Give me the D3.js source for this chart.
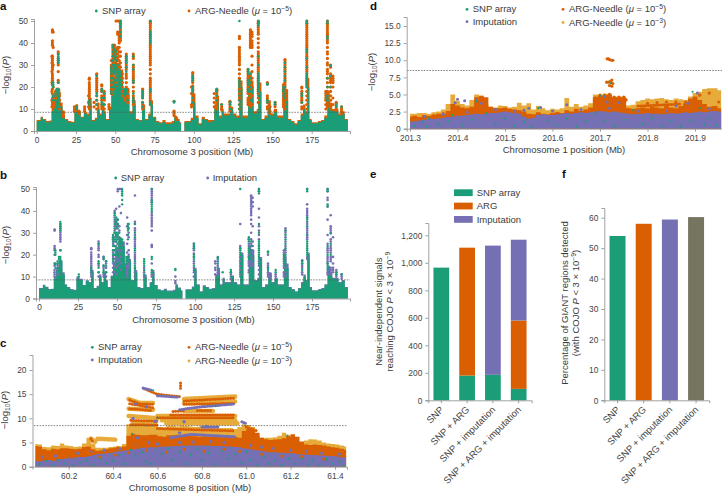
<!DOCTYPE html>
<html><head><meta charset="utf-8">
<script src="https://cdn.jsdelivr.net/npm/d3@7"></script>
<style>html,body{margin:0;padding:0;background:#fff}svg{display:block}text{font-family:"Liberation Sans",sans-serif;fill:#3c3c3c}</style>
</head><body><svg id="c" width="722" height="496"></svg>
<script>
const GREEN="#1b9e77",ORANGE="#d95f02",PURPLE="#7570b3",YELLOW="#e6ab3a",OLIVE="#767660";
const chr3Ticks=[0,25,50,75,100,125,150,175];
const chr8Ticks=[60.2,60.4,60.6,60.8,61.0,61.2,61.4];
const chr1Ticks=[201.3,201.4,201.5,201.6,201.7,201.8,201.9];
const dTicksY=[0,2.5,5,7.5,10,12.5,15];
const barCats=["SNP","SNP + ARG","SNP + imputation","SNP + ARG + imputation"];
const eSnp=[965,180,185,83];
const eArg=[0,930,0,497];
const eImp=[0,0,940,588];
const fPct=[54,58,59.4,60.2];
const threshold=8.5;

// chromosome 3 floors (position, then height of the solid mass of each call set)
const chr3Pos=[0,2,2.5,4,6,8,9.5,11,13,15,16.5,18,20,22,24,26,28,30,32,33.5,35,37,38.5,40,41.5,43,44,46,47.5,49,51,53,55,57,59,61,63,65,67,69,71,72.5,74,76,78,80,82,84,86,87.5,89,91,91.9,92,94,96,98,99.5,101,103,105,107,109,111,113,114.5,116,117.7,119,121,123,125,127,129,131,133,134.5,136,138,140,141,143,145,147,149,151,153,155,157,158.5,160,162,164,166,168,169.5,171,172,173.5,175,177,179,181,183,185,186.5,188,190,192,194,196,198];
const snpFloor=[4.5,4.5,6,5,4,4.2,9,13,17,11,6,5,4,3.8,9,8.5,6,8,7,12,4.5,5.5,10,7,11,8,5,10,16,20,26,24,14,17,8,12,5,4.5,10,5,7,12,6,4,3.5,4,3.2,3.3,3.5,6,4.5,3.5,3.5,null,4,4,5,13,6,3,5.5,5,4,4.5,10,13,6,9,7,7,10,7,6,20,6,6,22,20,8,9,18,5,6,11,7,9,6,6,17,14,5,4,3,4.5,7,10,8,20,5,3.5,3.5,4,4.5,6,14,11,9,9,7,8,5,3.5];
const argFloor=[5,5,6.5,5.5,4.6,4.8,11,16,19,13,7,5.5,4.6,4.2,11,9,6.5,8.5,8,15,5,6,13,8,13,9,5.5,11,20,24,31,28,19,19,9,14,5.5,5,12,5.5,8,14,6.5,4.5,4,5,4,4,4.5,7,5.5,4,4,null,4.5,4.5,6,17,7,3.5,6.5,5.5,5,5,12,16,7,10,8,8,11,8,7,23,7,7,25,23,9,10,22,5.5,7,14,8,10,7,7,22,19,5.5,4.5,3.5,5,8,12,9,24,5.5,4,4,4.5,5,7,18,13,10,10,8,9,5.5,4.2];
const impFloor=[4.8,4.8,6.3,5.4,4.3,4.5,10,14,17.5,12,6.5,5.2,4.3,4,10,9,6.2,8.3,7.5,13,4.8,5.8,11,7.5,12,8.5,5.3,10.5,17,22,28,26,16,18,8.5,13,5.2,4.8,11,5.2,7.5,13,6.2,4.2,3.8,4.4,3.6,3.6,4,6.5,5,3.8,3.8,null,4.2,4.2,5.5,14,6.5,3.3,6,5.3,4.5,4.8,11,14,6.5,9.5,7.5,7.5,10.5,7.5,6.5,21,6.5,6.5,24,22,8.5,9.5,19,5.3,6.5,12,7.5,9.5,6.5,6.5,19,16,5.3,4.3,3.3,4.8,7.5,11,8.5,21,5.3,3.8,3.8,4.3,4.8,6.5,15,12,9.5,9.5,7.5,8.5,5.3,3.8];

// chromosome 3 strong-signal columns: [position, [values]]; values above 50 are shown at the 50 cap
const argColumns=[[10,[46,45.5,45,41,40,39,34,33,32,31,30,29,28,26,25,24,23,22,21,19,17,15,13,12]],[9.7,[34,31,27,22,18,14,11]],[10.5,[45,38,30,20,16]],[13.7,[36,35,33,32,31,30,27,23,22,19,18,17,15,14,13]],[13,[19,18,17,16,14,12]],[12,[18,17,16,15,13,12]],[14.5,[17,16,14,12,10]],[11,[14,13,12,11]],[17,[8.7,8,7,6.5]],[24,[11,10,9]],[25.5,[11.5,10.5,9.5]],[27,[9,8]],[30.5,[11,10,9]],[33.5,[24,23.5,22,21,20,19,18,17,16,15,14,13,12,11,10]],[33,[16,13,11]],[38.2,[26,25.5,24,23,22,21,20,19,18,16,14,12,10]],[36.5,[13,11]],[41.4,[21,20.5,19,18,16,15,14,12,11,10]],[43,[18,17,16,15,14,12,10]],[46,[12,11,10]],[47.5,[32,30,29,28,27,26,25,24,23,22,21,20,19,18,17]],[48.5,[39,38,37,36,35,34,33,32,31,30,29,28,27,26,25,24,22,21,20,19]],[49.5,[39,38,37,36,35,34,33,31,30,28,27,26,24,23,22,21,20]],[50.5,[50,37,36,35,34,33,32,31,30,29,28,27,25,24,23,22,21]],[51.5,[50,45,44,38,37,35,33,32,30,29,28,26,25,23]],[52.5,[50,45,44,43,42,41,40,38,36,34,32,30,28,27,26,25,24]],[53.3,[50,49,48,47,46,45,44,43,42,41,36,34,31,29,27,26]],[54.5,[26,24,22,20,18,16]],[56,[19,18,17,16,15,14]],[57,[35,34,33,32,31,30,29,28,26,25,24,22,20,19,18,17,16]],[58,[19,18,16,15,13]],[61.5,[35,34,33,30,29,28,27,26,25,24,23,22,20,18,16,15,14,13,12]],[67.4,[19,18,17,16,15,13,12,11,10]],[72.3,[50,49.5,49,48,47,46,45,44,43,42,41,40,39,38,37,36,35,34,33,32,31,30,28,26,24,23,22,21,20,19,18,17,16,15,14,13,12]],[87.4,[13.5,9,8,7]],[89,[6,5.5]],[99.3,[26.5,26,25,24,23,22,20.5,20,19,18,17,16,15,14,13,12]],[98.5,[20,17,12,11]],[114.6,[19,18.5,18,17,16,15,14,13,12,11,10]],[113,[17,15,13,11]],[117.7,[12,11,10,9.5]],[123,[13.5,13,12,11,10,9]],[129,[43,42,38,37,36,35,34,33,32,31,30,28,26,24,23,22,21,20,19,18,17,16,15,14,12,10]],[134.5,[28,27,26,25,24,23,22,21,20,19,18,17,15,14,13,12]],[136,[46,45,44,43,42,41,40,39,38,26,25,24,23,22,21,20,19,18,17,16,15,14,13,12,11]],[137,[45,44,43,41,40,39,38,34,30,27,24,20,16,12]],[141,[50,49.5,49,48,47,46,45,44,42,40,38,36,35,34,33,32,31,30,29,28,27,26,25,24,23,22,21,20,19,18,17,15,13]],[146.8,[22,21.5,16,15,14,13,11,10]],[148.5,[11,9,8]],[151.7,[13,12,11,9]],[157,[21,20,19,18,17,16,15,14,13,12,11]],[158,[32.5,32,31,30,29,28,27,26,25,24,23,22,21,20,19,18,17,16,15,14,12,10]],[168.7,[20,19.5,18,17,16,15,14,13,11,10]],[171.9,[50,49,48,47,46,45,44,43,42,41,40,39,38,37,36,35,34,33,32,31,30,29,28,27,26,25,24,23,22,21,20,18,16,14,12,10]],[185,[50,49,48,47,46,45,44,43,42,41,40,38,36,35,33,31,30,28,27,26,24,22,20,18,17,16,15,14,13,12,11]],[184,[18,17,16,15,14,12,10]],[187,[30,29,26,25,24,23,22,20,18,16,14,12,11,10]],[188.5,[25,24,23,22,20,15,12]],[190.6,[13,12.5,11.5,10.5,9.5]],[194,[11,10,9,8]]];
const snpColumns=[[10.5,[22,21,20,16,15.5,14]],[12,[17,16,14]],[13.7,[35,34,33,32,31,22,19,18,17,16,15,14,13,12]],[12.8,[19,18,13,12]],[25.5,[11,10]],[33.5,[14,13,12]],[38.2,[25,17,16,14,12]],[41.4,[19,18,15,13,12]],[43,[17,15,12]],[47.5,[29,28,27,26,24,22,20,18,17]],[48.5,[39,38,36,34,32,30,27,24,22,20]],[49.5,[37,35,33,30,29,28,27,26,23,21,20]],[50.5,[36,34,32,29,27,25,23,21]],[51.5,[30,28,26,24]],[52.5,[27,26,25,24,23]],[53.3,[50,49,48,47,45,43,27,26,25]],[56,[19,18,17,16]],[57,[34,33,32,31,29,27,19,18,17]],[61.5,[34,30,28,23,22,17,15,14,13]],[67.4,[18,17,16,15,13,11]],[72.3,[50,45,44,43,42,41,40,19,18,13,12]],[87.4,[13.5,13]],[99.3,[25,24,23,20,19,18,15,13]],[114.6,[19,18,16,14]],[117.7,[12]],[123,[13,12,10]],[129,[50,23,22,21,20,18,16,14,12,10]],[134.5,[28,27,26,23,22,21,19,18]],[136,[26,24,22,20,18,14]],[141,[50,49,48,34,30,26,25,24,23,22,21,20,19,18,16]],[146.8,[21.5,21,14,13]],[151.7,[13,12]],[157,[20,19,18,16]],[158,[31,29,27,25,23,20,17,15]],[168.7,[17,16,13]],[171.9,[50,49,37,36,33,29,26,25,24,23,22,21,20]],[185,[50,49,43,42,24,20,16,15,14]],[187,[29.7,25,20]],[190.6,[12,11]],[194,[11]]];
const impColumns=[[10,[31.5,31,24,23,22,20,16,15,13,12,11,10]],[13.7,[34,33,32,31,30,29,28,27,26,22,17,16,15,14,13,12]],[12,[16,15,14,13,12,11]],[33.5,[23,22.5,21,20,19,18,17,16,15,14,13,12,11,10]],[38.2,[26,25,24,23,22,20,19,16,15,12,10]],[41.4,[19,18,15,14,12,11,10]],[43,[17,16,14,12,10]],[47.5,[29,28,27,26,25,22,21,20,19,18,16,14,12]],[48.5,[40,39,37,35,33,31,30,28,26,24,22,20,18,15,12]],[49.5,[41,36,35,34,32,29,26,24,22,19,17,14,11]],[50.5,[50,49,36,34,33,30,28,25,22,18,15]],[51.5,[50,42,33,31,27,24,21,17]],[52.5,[50,39,27,25,22,19,16,13]],[56.5,[37,33,29,25,21,18,16,15,14,13,12,11,10]],[57.5,[34,32,30,28,22,20,19,18,17,16,15,14]],[61.5,[47,35,34,32,31,29,27,26,25,24,21,20,19,18,16,14,12,10]],[67.4,[14,12,10]],[72.3,[50,49,48,47,46,45,44,39,38,37,36,35,34,33,31,24.5,24,23.5,16,11,10]],[87.4,[10,8,7]],[99.3,[25,24,23,22,20.5,19,17,16,14,12,10]],[113,[17,16,14,13,11]],[114.6,[18.5,17,15,13,12,11]],[123,[12,11,9]],[129,[34,24,23,19,17,15,13,11]],[134.5,[27,25,24,20,19,17,16,15,13,12]],[136,[47,46.5,46,45,44,43,42,41,40,39,38,36,34,30,27,25,21,19,17,16,15,14]],[137,[46,44,42,33,26,24,22,20,18,16,15]],[141,[50,49,41,37,33,31,29,27,24,17,15,13,11]],[146.8,[20,16,15,14,12,11,10]],[148.5,[11,10,9]],[151.7,[11,10]],[157,[22,21,20,18,17,15,14,12,11,10]],[158,[32,31,30,28,26,24,22,21,19,18,16,14,12,10]],[168.7,[17.5,16,15,14,12,11]],[171.9,[50,43,41,40,39,38,37,35,34,32,31,30,29,28,27,19,18]],[185,[50,49,46,45,42,36,29,25,23,22,21,19,18,17,16,13,12,11]],[187,[38,33,32,31,30,27,26,24,23,22,21,19,18,17,14,13,12,11]],[188.5,[28,19,16,14,13,12]],[190.6,[13,12,11,10]],[194,[11,10,9]]];

// chromosome 8 region
const c8Pos=[60.05,60.07,60.09,60.11,60.13,60.15,60.17,60.19,60.21,60.23,60.25,60.27,60.29,60.31,60.33,60.35,60.37,60.39,60.41,60.43,60.45,60.47,60.49,60.51,60.53,60.55,60.57,60.59,60.61,60.63,60.65,60.67,60.69,60.71,60.73,60.75,60.77,60.79,60.81,60.83,60.85,60.87,60.89,60.91,60.93,60.95,60.97,60.99,61.01,61.03,61.05,61.07,61.09,61.11,61.13,61.15,61.17,61.19,61.21,61.23,61.25,61.27,61.29,61.31,61.33,61.35,61.37,61.39,61.41,61.43,61.45];
const c8Imp=[1.2,1.1,1.3,1.4,1.2,1.5,1.6,1.7,1.7,1.9,2,2,2.2,2.4,2.6,2.7,2.8,2.9,3.1,3.2,3.3,3.4,3.6,3.7,3.9,3.9,4,4,4.1,4.2,4.2,4.3,4.3,4.4,4.4,4.4,4.4,4.4,4.4,4.4,4.3,4.3,4.3,4.2,4.2,4.1,4,3.8,3.7,3.5,3.4,3.3,3.1,3,3,2.9,2.9,2.8,2.8,2.6,2.6,2.5,2.4,2.4,2.3,2.3,2.2,2.2,2.1,2,1.9];
const c8Arg=[4.3,4.2,3.6,3.4,3.7,3.6,3.8,3.8,3.7,3.6,3.7,4.1,4.2,3.6,3.3,3.4,3.6,3.8,3.9,3.9,4.2,6.4,6.8,6.6,6.5,6.5,6.6,6.6,6.3,6.2,6.5,6.5,6.6,6.5,6.5,6.4,6.3,6.2,6.3,6.2,6.2,6.2,6.1,6.2,6.2,6.2,6,7.4,7.8,7.6,7,6,5.7,5.5,5.6,5.7,5.9,6.3,6.7,6.2,5.2,4.6,4.5,4.6,4.5,4.4,4.2,4,3.9,3.7,3.5];
const c8Yellow=[4.7,4.6,4.1,4,4.4,4.3,4.8,4.4,4.3,4.1,4.2,4.8,6,4.8,3.9,3.9,3.9,4.1,4.2,4.3,4.7,8.8,9.6,9.4,9.3,9.3,9.2,9.4,8.2,8.1,8.4,8.5,8.3,8.5,8.4,8.3,8.2,8.3,8.2,8.1,8.1,8,8,8,8,7.8,8.2,8.8,8.6,8.2,6.6,6,6,6,6.1,6.4,7,6.6,5.6,5.2,5,5.4,5.7,5.6,5.4,5,4.8,4.7,4.6,4.4,4.2];
const c8YellowTraces=[[[60.47,14],[60.52,13.2],[60.58,13.2]],[[60.47,12],[60.58,11.8]],[[60.47,10.5],[60.6,10]],[[60.72,14],[60.95,14.5]],[[60.72,13.2],[60.95,13.5]],[[60.72,11.5],[60.85,11.5]],[[60.6,10.5],[60.95,10.5]],[[60.62,9.6],[60.95,9.6]],[[60.3,5.8],[60.32,5.2]],[[60.33,5.8],[60.41,5.6]],[[60.64,9],[60.96,9]]];
const c8ArgTraces=[[[60.475,13.8],[60.52,13],[60.58,12.9]],[[60.475,13],[60.58,12.2]],[[60.475,12],[60.58,11.6]],[[60.48,9.6],[60.6,9.4]],[[60.48,8.7],[60.6,8.6]],[[60.6,10.1],[60.95,10.1]],[[60.66,10.7],[60.95,10.7]],[[60.72,13.6],[60.95,14.2]],[[60.72,12.9],[60.95,13.1]],[[60.67,11.4],[60.72,11.6]],[[60.78,11.6],[60.85,11.6]],[[60.54,16.1],[60.6,15],[60.7,14.5]],[[60.704,17.3],[60.704,16]],[[60.3,5.8],[60.31,5.0]],[[60.6,7.9],[60.95,7.4]],[[60.62,5.9],[60.95,5.6]],[[61,8.2],[61.05,7.4]]];
const c8ImpTraces=[[[60.535,16.3],[60.575,15.8]],[[60.6,14.7],[60.69,14.4]],[[60.7,11.8],[60.8,12.4],[60.95,13]],[[60.66,6],[60.75,6.7],[60.95,6.2]],[[60.98,9.3],[61,8.9]],[[60.8,8.2],[60.88,8.2]]];
const c8SnpPts=[[60.07,.5],[60.1,1.2],[60.13,.4],[60.15,1.4],[60.18,.7],[60.22,.3],[60.25,.9],[60.28,1.2],[60.31,.4],[60.34,1.6],[60.37,.7],[60.4,1.2],[60.43,2.4],[60.45,.6],[60.48,3.5],[60.5,2.2],[60.53,3],[60.55,1],[60.58,15.8],[60.6,10.1],[60.57,.6],[60.62,2.7],[60.65,3.8],[60.67,1.4],[60.7,3.1],[60.73,.6],[60.75,2.4],[60.78,3.6],[60.8,1.2],[60.83,2.8],[60.86,.5],[60.86,12.5],[60.89,3.2],[60.92,1.6],[60.95,2.6],[60.98,.7],[61,3.1],[61.02,1.4],[61.05,.4],[61.08,2.1],[61.1,.6],[61.13,1.2],[61.16,.4],[61.185,6.4],[61.19,1.7],[61.22,.6],[61.25,1.6],[61.28,.5],[60.485,6.8],[61.3,1.2],[61.33,.4],[61.36,1.5],[61.39,.6],[61.42,1.1],[61.44,.3]];
const c8ImpPts=[[60.5,13],[60.55,12.4],[60.59,9.4],[60.49,10],[60.51,6],[60.7,7],[60.82,8.3],[60.72,9.3],[60.62,3.9],[60.2,1.9],[60.08,2],[60.14,2.2],[60.24,2.8],[60.3,3],[60.36,3.4],[60.43,3.7],[60.5,4.4],[60.56,5],[60.6,4.7],[60.7,5],[60.76,5.1],[60.84,5.2],[60.9,5],[61.02,4.4],[61.07,4.1],[61.12,3.8],[61.2,3.4],[61.27,3.2],[61.34,2.8],[61.42,2.6]];
const c8ArgPts=[[60.06,3.6],[60.09,2.8],[60.12,3],[60.16,2.6],[60.19,3],[60.22,2.6],[60.26,3],[60.3,2.8],[60.34,3],[60.37,3],[60.42,3.9],[60.48,5.6],[60.5,4.4],[60.54,5],[60.58,4.8],[60.63,4.9],[60.68,5.2],[60.73,5],[60.79,5],[60.86,5.2],[60.93,4.8],[60.99,4.5],[61.05,4],[61.1,4.1],[61.14,3.4],[61.18,3.6],[61.22,3.2],[61.26,3],[61.31,2.8],[61.37,2.5],[61.43,2.2],[60.07,1.8],[60.13,1.6],[60.2,2.2],[60.28,2.4],[60.34,2],[60.41,2.4],[60.47,2.9],[60.55,3.4],[60.64,3],[60.72,3.6],[60.81,3.2],[60.9,3.6],[60.97,3.2],[61.07,2.6],[61.16,2.2],[61.25,2.1],[61.35,1.6]];

// chromosome 1 region
const c1Pos=[201.3,201.31,201.32,201.33,201.34,201.35,201.36,201.37,201.38,201.39,201.4,201.41,201.42,201.43,201.44,201.45,201.46,201.47,201.48,201.49,201.5,201.51,201.52,201.53,201.54,201.55,201.56,201.57,201.58,201.59,201.6,201.61,201.62,201.63,201.64,201.65,201.66,201.67,201.68,201.69,201.7,201.71,201.72,201.73,201.74,201.75,201.76,201.77,201.78,201.79,201.8,201.81,201.82,201.83,201.84,201.85,201.86,201.87,201.88,201.89,201.9,201.91,201.92,201.93,201.94,201.955];
const c1Imp=[1,1.1,1.2,1.3,1.5,1.4,1.5,1.6,1.7,1.8,1.9,1.9,2,2.1,2.2,2.1,2.2,2.3,2.3,2.4,2.5,2.4,2.3,2.2,1.8,1.5,1.6,2,2.1,2,2,2.1,2.2,2.3,2.2,2.3,2.4,2.3,2.4,2.5,2.6,2.5,2.4,2.5,2.4,2.3,2.2,2.1,2.2,2.2,2.3,2.2,2.2,2.1,2.2,2.3,2.2,2.3,2.4,2.3,2.4,2.5,2.4,2.5,2.6,2.5];
const c1Arg=[1.8,1.9,1.7,2,1.9,2,2.2,2.1,2.6,3.6,3.4,3.1,3,3.2,4.6,4.8,4.6,3.2,3,3,3.1,2.9,2.8,2.7,2.5,2.2,2.1,2.4,2.2,2.1,2.3,2.4,2.3,2.7,2.5,2.9,2.6,2.8,3.1,4.6,4.8,4.9,5,4.6,4.5,4.5,3,2.9,3,3.1,3,3.2,3.1,3,3.4,3.1,3,3.3,3.7,4.4,4.7,4.2,3.6,3.2,3.3,3];
const c1Yellow=[2.2,2.2,2.3,2.3,2.2,2.4,2.5,2.8,3.6,5,4.1,3.6,3.4,4.2,5,4.8,3.6,3.2,3.1,3.4,3.3,3.1,3.2,3.8,3.4,3.7,2.8,3.3,3,2.7,2.9,2.8,3,4.5,3.2,3.6,3.2,3.4,3.7,5,5,5.1,5.1,4.7,4.7,4.7,3.4,3.5,4,4.2,4.4,4.3,4.4,4.5,4.3,4.2,4.4,4.3,4.2,4.7,5.2,5.4,5.8,5.9,5.9,5.6];
const c1ArgPts=[[201.715,10.2],[201.718,10.2],[201.72,10.1],[201.724,10],[201.727,10],[201.714,6.8],[201.718,6.8],[201.722,6.9],[201.725,7.1],[201.727,6.6],[201.72,6.3],[201.725,6.2],[201.723,6.7],[201.69,4.5],[201.7,4.9],[201.71,4.9],[201.72,5],[201.73,4.6],[201.74,4.6],[201.75,4.6],[201.735,4.2],[201.745,4.2],[201.755,4.2],[201.8,3.7],[201.82,3.8],[201.84,3.9],[201.86,3.9],[201.88,3.9],[201.91,4.9],[201.93,5.2],[201.95,3.9],[201.31,1.6],[201.33,1.7],[201.35,1.9],[201.37,2.2],[201.41,2.8],[201.47,2.4],[201.49,2.7],[201.53,2.4],[201.57,1.9],[201.61,2.2],[201.66,2.3],[201.71,2.9],[201.76,2.7],[201.82,2.4],[201.87,2.3],[201.92,3.3],[201.94,2.7]];
const c1SnpPts=[[201.31,.4],[201.325,1],[201.335,.3],[201.34,1.5],[201.36,.6],[201.38,1.1],[201.39,2],[201.41,.5],[201.43,1.3],[201.44,4],[201.46,2.3],[201.48,.6],[201.5,1.5],[201.52,.4],[201.54,1],[201.555,.3],[201.57,3],[201.59,1.2],[201.61,.5],[201.63,1.5],[201.65,.3],[201.67,1.1],[201.69,2.2],[201.7,4.8],[201.71,1.2],[201.723,6.7],[201.73,.4],[201.75,1.3],[201.77,2.7],[201.79,.7],[201.81,1.6],[201.83,.4],[201.85,1.2],[201.87,.3],[201.895,5.4],[201.89,1.2],[201.91,3],[201.92,.6],[201.93,1.4],[201.945,.5]];
const c1ImpPts=[[201.4,4.3],[201.415,4.1],[201.395,3.8],[201.44,4.2],[201.45,3.7],[201.54,2.7],[201.55,3],[201.575,3.1],[201.63,3.5],[201.71,4.7],[201.715,3.9],[201.74,3.8],[201.905,5.2],[201.885,3.7],[201.86,3.3],[201.33,1.8],[201.37,2.1],[201.42,2.4],[201.48,2.8],[201.52,2.6],[201.6,2.6],[201.66,2.8],[201.72,3],[201.78,2.6],[201.84,2.6],[201.93,2.9]];
const c1ArgTraces=[[[201.69,4.2],[201.755,4.4]],[[201.78,3.3],[201.87,3.6]]];
const c1YellowTraces=[[[201.77,2.4],[201.9,2.6]]];

const svg=d3.select("#c");
const dot=(sel,pts,x,y,col,r)=>sel.append("g").selectAll("circle").data(pts).join("circle").attr("cx",d=>x(d[0])).attr("cy",d=>y(d[1])).attr("r",r).attr("fill",col);
const flat=cols=>cols.flatMap(([p,vs])=>vs.map(v=>[p,v]));
const floor=(sel,pos,h,x,y,col,curve)=>sel.append("path").datum(pos.map((p,i)=>[p,h[i]])).attr("fill",col).attr("d",d3.area().defined(d=>d[1]!=null).curve(curve||d3.curveStepAfter).x(d=>x(d[0])).y0(y(0)).y1(d=>y(d[1])));
const trace=(sel,tr,x,y,col,w,dash)=>sel.append("g").selectAll("path").data(tr).join("path").attr("fill","none").attr("stroke",col).attr("stroke-width",w).attr("stroke-linecap","round").attr("stroke-dasharray",dash).attr("d",d3.line().x(d=>x(d[0])).y(d=>y(d[1])));
const ext=(s,a,b)=>s.copy().domain([a,b]).range([s(a),s(b)]);
function axes(x,y,xT,yT,x0,y0,xEnd,yTop,fmtX,fmtY){
  const xa=x.bandwidth?x:ext(x,x.invert(x0),x.invert(xEnd));
  const ya=ext(y,y.invert(y0),y.invert(yTop));
  const gx=svg.append("g").attr("transform",`translate(0,${y0})`).call(d3.axisBottom(xa).tickValues(xT).tickSizeOuter(0).tickSize(3).tickPadding(3).tickFormat(fmtX));
  const gy=svg.append("g").attr("transform",`translate(${x0},0)`).call(d3.axisLeft(ya).tickValues(yT).tickSizeOuter(0).tickSize(3).tickPadding(3).tickFormat(fmtY));
  [gx,gy].forEach(g=>{g.selectAll("path,line").attr("stroke","#8a8a8a").attr("stroke-width",.8);g.selectAll("text").attr("font-size",8.4).attr("font-family",null).style("fill","#444");});
  return [gx,gy];
}
function rich(x,y,parts,size,anchor,rot){
  const t=svg.append("text").attr("font-size",size).attr("text-anchor",anchor||"start").attr("transform",`translate(${x},${y})`+(rot?` rotate(${rot})`:""));
  let sh=0;
  parts.forEach(p=>{const o=typeof p==="string"?{t:p}:p;const s=t.append("tspan").text(o.t);
    const want=o.sup?-3:o.sub?2:0;
    if(want!==sh){s.attr("dy",want-sh);sh=want;}
    if(o.sup||o.sub)s.attr("font-size",size*.72);
    if(o.i)s.attr("font-style","italic");});
  return t;
}
const F=9.5;
const ylab=(x,y)=>rich(x,y,["−log",{sub:1,t:"10"},"(",{i:1,t:"P"},")"],F,"middle",-90);
const xlab=(x,y,s)=>rich(x,y,[s],F,"middle");
function leg(x,y,col,parts,tx){svg.append("circle").attr("cx",x).attr("cy",y).attr("r",1.4).attr("fill",col);rich(tx,y+3,parts,F);}
const letter=(s,x,y)=>svg.append("text").text(s).attr("x",x).attr("y",y).attr("font-size",11.5).attr("font-weight","bold").style("fill","#111");
const argL=e=>["ARG-Needle (",{i:1,t:"μ"}," = 10",{sup:1,t:e},")"];
function thr(x0,x1,y){svg.append("line").attr("x1",x0).attr("x2",x1).attr("y1",y(threshold)).attr("y2",y(threshold)).attr("stroke","#555").attr("stroke-width",.7).attr("stroke-dasharray","1.6 1.2");}
const SMOOTH=d3.curveStep;

// panel a
{const x=d3.scaleLinear().domain([0,175]).range([36.7,311.7]),y=d3.scaleLinear().domain([0,50]).range([131,21]);
 const g=svg.append("g");
 floor(g,chr3Pos,argFloor,x,y,ORANGE);
 floor(g,chr3Pos,snpFloor,x,y,GREEN);
 dot(g,flat(argColumns),x,y,ORANGE,1.6);
 dot(g,flat(snpColumns),x,y,GREEN,1.3);
 thr(34,350,y);
 axes(x,y,chr3Ticks,[0,10,20,30,40,50],34,131,350,19,d3.format("d"),d3.format("d"));
 ylab(9,75);xlab(192,155,"Chromosome 3 position (Mb)");
 leg(96.3,11,GREEN,["SNP array"],102);leg(189,11,ORANGE,argL("−5"),195);letter("a",0,10);}
// panel b
{const x=d3.scaleLinear().domain([0,175]).range([39,312]),y=d3.scaleLinear().domain([0,50]).range([298.5,189]);
 const g=svg.append("g");
 floor(g,chr3Pos,impFloor,x,y,PURPLE);
 floor(g,chr3Pos,snpFloor,x,y,GREEN);
 dot(g,flat(impColumns),x,y,PURPLE,1.3);
 dot(g,flat(snpColumns),x,y,GREEN,1.2);
 thr(36,350,y);
 axes(x,y,chr3Ticks,[0,10,20,30,40,50],36,298.5,350,187,d3.format("d"),d3.format("d"));
 ylab(9,245);xlab(193.5,323,"Chromosome 3 position (Mb)");
 leg(115.7,178,GREEN,["SNP array"],120.7);leg(207.7,178,PURPLE,["Imputation"],212.7);letter("b",0,179);}
// panel c
{const x=d3.scaleLinear().domain([60.2,61.4]).range([68.7,335]),y=d3.scaleLinear().domain([0,20]).range([466.7,370]);
 const g=svg.append("g");
 floor(g,c8Pos,c8Yellow,x,y,YELLOW,SMOOTH);
 trace(g,c8YellowTraces,x,y,YELLOW,4.5,null);
 trace(g,c8ArgTraces,x,y,ORANGE,3,"0 2.6");
 floor(g,c8Pos,c8Arg,x,y,ORANGE,SMOOTH);
 trace(g,c8ImpTraces,x,y,PURPLE,3,"0 2");
 floor(g,c8Pos,c8Imp,x,y,PURPLE,SMOOTH);
 dot(g,c8ImpPts,x,y,PURPLE,1.7);
 dot(g,c8ArgPts,x,y,ORANGE,1.5);
 dot(g,c8SnpPts,x,y,GREEN,1.1);
 thr(34,347,y);
 axes(x,y,chr8Ticks,[0,5,10,15,20],32.5,466.7,347,355,d3.format(".1f"),d3.format("d"));
 ylab(8,410);xlab(190,491,"Chromosome 8 position (Mb)");
 leg(92.3,347.3,GREEN,["SNP array"],98);leg(92.3,360,PURPLE,["Imputation"],98);leg(189,347.3,ORANGE,argL("−5"),195);leg(189,361,YELLOW,argL("−3"),195);letter("c",0,347);}
// panel d
{const x=d3.scaleLinear().domain([201.3,201.9]).range([410,695]),y=d3.scaleLinear().domain([0,15]).range([128.7,26]);
 const g=svg.append("g");
 floor(g,c1Pos,c1Yellow,x,y,YELLOW,SMOOTH);
 trace(g,c1YellowTraces,x,y,"#fff",1,"3 3");
 floor(g,c1Pos,c1Arg,x,y,ORANGE,SMOOTH);
 trace(g,c1ArgTraces,x,y,ORANGE,3,"0 2.6");
 dot(g,c1ArgPts,x,y,ORANGE,1.6);
 floor(g,c1Pos,c1Imp,x,y,PURPLE,SMOOTH);
 dot(g,c1ImpPts,x,y,PURPLE,1.5);
 dot(g,c1SnpPts,x,y,GREEN,1.1);
 thr(407,722,y);
 axes(x,y,chr1Ticks,dTicksY,406.7,128.7,722,17,d3.format(".1f"),d=>d===0?"0":d3.format(".1f")(d));
 ylab(375,72);xlab(564,152.7,"Chromosome 1 position (Mb)");
 leg(467,9.3,GREEN,["SNP array"],472.7);leg(467,21.7,PURPLE,["Imputation"],472.7);leg(563,9.3,ORANGE,argL("−5"),569);leg(563,22.5,YELLOW,argL("−3"),569);letter("d",370,9.5);}
// panel e
{const x=d3.scaleBand().domain(barCats).range([428.3,531.7]).paddingInner(.39).paddingOuter(.2),y=d3.scaleLinear().domain([0,1200]).range([400.3,235.3]);
 const stack=d3.stack().keys([0,1,2]).value((d,k)=>d[k])(barCats.map((c,i)=>[eSnp[i],eArg[i],eImp[i]]));
 [GREEN,ORANGE,PURPLE].forEach((col,k)=>svg.append("g").selectAll("rect").data(stack[k]).join("rect").attr("x",(d,i)=>x(barCats[i])).attr("width",x.bandwidth()).attr("y",d=>y(d[1])).attr("height",d=>y(d[0])-y(d[1])).attr("fill",col));
 const [gx]=axes(x,y,barCats,[0,200,400,600,800,1000,1200],428.3,400.3,531.7,223,null,d3.format(","));
 gx.call(barLabels);
 rich(381.7,311.7,["Near-independent signals"],F,"middle",-90);
 rich(392.5,311.7,["reaching COJO ",{i:1,t:"P"}," < 3 × 10",{sup:1,t:"−9"}],F,"middle",-90);
 [["SNP array",GREEN],["ARG",ORANGE],["Imputation",PURPLE]].forEach(([t,c],i)=>{svg.append("rect").attr("x",454).attr("width",18.7).attr("y",189.3+i*13.35).attr("height",6.8).attr("fill",c);rich(476.7,196+i*13.35,[t],F);});
 letter("e",370,178);}
// panel f
{const x=d3.scaleBand().domain(barCats).range([604.3,709.3]).paddingInner(.39).paddingOuter(.2),y=d3.scaleLinear().domain([0,60]).range([400.3,217.7]);
 svg.append("g").selectAll("rect").data(fPct).join("rect").attr("x",(d,i)=>x(barCats[i])).attr("width",x.bandwidth()).attr("y",d=>y(d)).attr("height",d=>y(0)-y(d)).attr("fill",(d,i)=>[GREEN,ORANGE,PURPLE,OLIVE][i]);
 const [gx]=axes(x,y,barCats,[0,10,20,30,40,50,60],604.3,400.3,709.3,208,null,d3.format("d"));
 gx.call(barLabels);
 rich(567.5,303,["Percentage of GIANT regions detected"],F,"middle",-90);
 rich(578.5,303,["(with COJO ",{i:1,t:"P"}," < 3 × 10",{sup:1,t:"−9"},")"],F,"middle",-90);
 letter("f",562,178);}
function barLabels(g){g.selectAll("text").attr("text-anchor","end").attr("font-size",9.5).attr("dy",0).attr("y",0).attr("x",0).attr("transform","translate(3,10) rotate(-45)");}
</script></body></html>
